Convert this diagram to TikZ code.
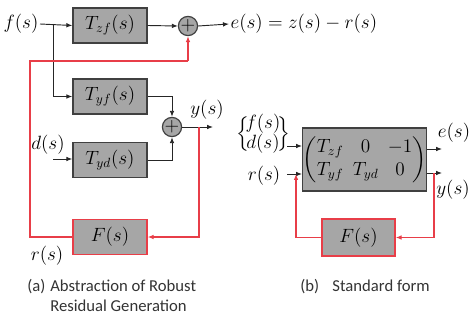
\documentclass[tikz,border=0pt]{standalone}
\usepackage{amsmath}
\usepackage{fontspec}
\newfontfamily\capfont{Carlito}
\usetikzlibrary{arrows.meta,calc}
\definecolor{boxgray}{RGB}{166,166,166}
\definecolor{boxedge}{RGB}{64,64,64}
\definecolor{redl}{RGB}{232,62,72}
\begin{document}
\begin{tikzpicture}[x=0.75pt,y=-0.75pt,
  font=\fontsize{14}{16}\selectfont,
  blk/.style={draw=boxedge,fill=boxgray,line width=1pt,minimum width=55.5pt,minimum height=26.25pt,inner sep=0pt},
  fblk/.style={blk,draw=redl},
  sumc/.style={circle,draw=boxedge,fill=boxgray,line width=0.9pt,minimum size=14pt,inner sep=0pt},
  lbl/.style={inner sep=1pt},
  arr/.style={-{Latex[length=4.5pt,width=3.5pt]},line width=0.7pt,draw=black!85},
  rarr/.style={-{Latex[length=4.5pt,width=3.5pt]},line width=0.9pt,draw=redl},
  rline/.style={line width=0.9pt,draw=redl},
  captxt/.style={font=\capfont\fontsize{12.5}{13.5}\selectfont,inner sep=0pt,text=black!80}]
\useasboundingbox (0,0) rectangle (470,320);
% ---------- (a) ----------
\node[blk] (Tzf) at (110,25.5) {$T_{zf}(s)$};
\node[blk] (Tyf) at (110,96.5) {$T_{yf}(s)$};
\node[blk] (Tyd) at (110,160) {$T_{yd}(s)$};
\node[fblk] (F) at (110,237) {$F(s)$};
\node[sumc] (s1) at (188,26) {$+$};
\node[sumc] (s2) at (172,127) {$+$};
\node[lbl,anchor=east] (f) at (40,24) {$f(s)$};
\coordinate (fb) at (53,24);
\node[lbl,anchor=west] (e) at (229,24) {$e(s)=z(s)-r(s)$};
\node[lbl] (d) at (48,145) {$d(s)$};
\coordinate (din) at (53,159);
\node[lbl] (y) at (207,110) {$y(s)$};
\coordinate (yend) at (213,127);
\coordinate (yb) at (199,127);
\node[lbl] (r) at (47,256) {$r(s)$};
\coordinate (rc1) at (30,237);
\coordinate (rc2) at (30,61);
\coordinate (rc3) at (188,61);
\draw[arr] (f.east) -- (Tzf.west);
\draw[arr] (fb) |- (Tyf.west);
\draw[arr] (Tzf.east) -- (s1.west);
\draw[arr] (s1.east) -- (e.west);
\draw[arr] (din) -- (din -| Tyd.west);
\draw[arr] (Tyf.east) -| (s2.north);
\draw[arr] (Tyd.east) -| (s2.south);
\draw[arr] (s2.east) -- (yend);
\draw[rline] (F.west) -- (rc1) -- (rc2) -- (rc3);
\draw[rarr] (rc3) -- (s1.south);
\draw[rarr] (yb) |- (F.east);
\node[captxt,anchor=west] (capa) at (27,287) {(a)};
\node[captxt,anchor=north west,align=left] (capa2) at (50,280) {Abstraction of Robust\\[1pt]Residual Generation};
% ---------- (b) ----------
\node[blk,minimum width=86.25pt,minimum height=47.25pt] (P) at (364.5,159.5)
  {$\setlength{\arraycolsep}{3.5pt}\renewcommand{\arraystretch}{1.1}\begin{pmatrix} T_{zf} & 0 & -1\\ T_{yf} & T_{yd} & 0\end{pmatrix}$};
\node[fblk,minimum width=54.75pt,minimum height=27.75pt] (F2) at (358.5,237.5) {$F(s)$};
\node[lbl,inner sep=0pt] (fd) at (263,134) {$\setlength{\arraycolsep}{0pt}\renewcommand{\arraystretch}{0.8}\Bigl\{\!\begin{array}{c} f(s)\\ d(s)\end{array}\!\Bigr\}$};
\coordinate (fdin) at (287,146);
\node[lbl] (r2) at (264,176) {$r(s)$};
\coordinate (rin) at (287,174);
\coordinate (rj) at (296,174);
\coordinate (eo) at (442,149);
\coordinate (yo) at (442,173);
\coordinate (yj) at (434,173);
\node[lbl] (e2) at (454,133) {$e(s)$};
\node[lbl] (y2) at (453,190) {$y(s)$};
\draw[arr] (fdin) -- (fdin -| P.west);
\draw[arr] (rin) -- (rin -| P.west);
\draw[arr] (eo -| P.east) -- (eo);
\draw[arr] (yo -| P.east) -- (yo);
\draw[rarr] (F2.west) -| (rj);
\draw[rarr] (yj) |- (F2.east);
\node[captxt] (capb) at (365,287) {(b)\hspace{0.8em}Standard form};
\end{tikzpicture}
\end{document}
